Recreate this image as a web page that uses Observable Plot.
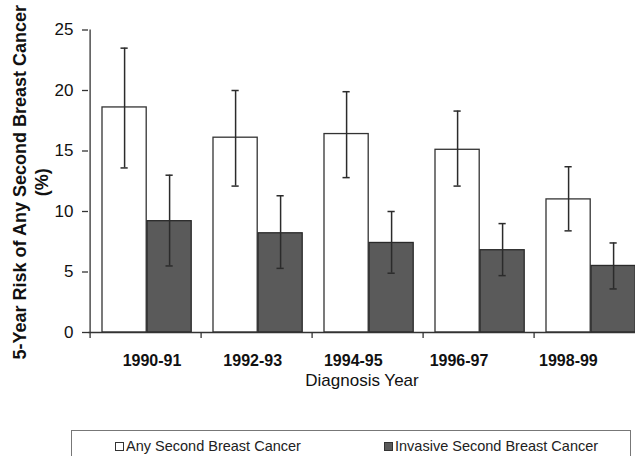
<!DOCTYPE html>
<html><head><meta charset="utf-8">
<script src="https://cdn.jsdelivr.net/npm/d3@7"></script>
<script src="https://cdn.jsdelivr.net/npm/@observablehq/plot@0.6"></script>
<style>
html,body{margin:0;padding:0;background:#fff;overflow:hidden;width:635px;height:456px;}
body{font-family:"Liberation Sans",Arial,sans-serif;position:relative;}
#legend{position:absolute;left:71px;top:430px;width:560px;height:40px;border:1px solid #777;box-sizing:border-box;font-size:14.5px;color:#222;}
.item{position:absolute;top:5px;line-height:20px;white-space:nowrap;}
.sw{display:inline-block;width:7px;height:7px;border:1px solid #333;margin-right:2px;vertical-align:0px;}
</style>
</head><body>
<div id="chart"></div>
<script>
const years = ["1990-91", "1992-93", "1994-95", "1996-97", "1998-99"];
const seriesNames = ["Any Second Breast Cancer", "Invasive Second Breast Cancer"];
const anyRisk = [18.6, 16.1, 16.4, 15.1, 11.0];
const anyLow  = [13.6, 12.1, 12.8, 12.1, 8.4];
const anyHigh = [23.5, 20.0, 19.9, 18.3, 13.7];
const invRisk = [9.2, 8.2, 7.4, 6.8, 5.5];
const invLow  = [5.5, 5.3, 4.9, 4.7, 3.6];
const invHigh = [13.0, 11.3, 10.0, 9.0, 7.4];
const yTicks = [0, 5, 10, 15, 20, 25];

// layout (styles)
const BW = (647 - 88) / 5;
const barW = 45;
const anyLeft = 12, invLeft = 57;
const capW = 8;
const labelShift = [6, -4.3, -14.7, -20, -21.6];

const anyRows = years.map((y, i) => ({year: y, value: anyRisk[i], low: anyLow[i], high: anyHigh[i]}));
const invRows = years.map((y, i) => ({year: y, value: invRisk[i], low: invLow[i], high: invHigh[i]}));

const anyC = anyLeft + barW / 2, invC = invLeft + barW / 2;
const errMarks = (rows, c) => [
  Plot.ruleX(rows, {x: "year", y1: "low", y2: "high", dx: c - BW / 2, stroke: "#2b2b2b", strokeWidth: 1.5}),
  Plot.tickY(rows, {x: "year", y: "high", insetLeft: c - capW / 2, insetRight: BW - c - capW / 2, stroke: "#2b2b2b", strokeWidth: 1.5}),
  Plot.tickY(rows, {x: "year", y: "low", insetLeft: c - capW / 2, insetRight: BW - c - capW / 2, stroke: "#2b2b2b", strokeWidth: 1.5})
];

const chart = Plot.plot({
  width: 635,
  height: 420,
  marginLeft: 88,
  marginRight: 0,
  marginTop: 29.5,
  marginBottom: 88,
  style: {fontFamily: "'Liberation Sans', Arial, sans-serif", background: "white", color: "#111", overflow: "hidden"},
  x: {domain: years, range: [88, 647], padding: 0, axis: null},
  y: {domain: [0, 25], axis: null},
  marks: [
    Plot.barY(anyRows, {x: "year", y: "value", fill: "white", stroke: "#333", strokeWidth: 1.3, insetLeft: anyLeft, insetRight: BW - anyLeft - barW}),
    Plot.barY(invRows, {x: "year", y: "value", fill: "#5a5a5a", stroke: "#2a2a2a", strokeWidth: 1.3, insetLeft: invLeft, insetRight: BW - invLeft - barW}),
    ...errMarks(anyRows, anyC),
    ...errMarks(invRows, invC),
    Plot.ruleY([0], {stroke: "#333", strokeWidth: 1.3}),
    Plot.ruleX([years[0]], {y1: 0, y2: 25, dx: -BW / 2, stroke: "#333", strokeWidth: 1.3}),
    Plot.axisY({ticks: yTicks, tickSize: 6, tickPadding: 9, fontSize: 17, label: null, stroke: "#333", strokeWidth: 1.3}),
    Plot.axisX({tickSize: 6, tickFormat: () => "", dx: -BW / 2, label: null, stroke: "#333", strokeWidth: 1.3}),
    ...years.map((y, i) => Plot.text([y], {x: d => d, frameAnchor: "bottom", dy: 33, dx: labelShift[i], fontSize: 16, fontWeight: "bold", fill: "#111"})),
    Plot.text(["Diagnosis Year"], {frameAnchor: "bottom", dy: 53, fontSize: 17, fill: "#111"}),
    Plot.text(["5-Year Risk of Any Second Breast Cancer\n(%)"], {frameAnchor: "left", textAnchor: "middle", dx: -58.5, dy: 1, rotate: -90, fontSize: 18, fontWeight: "bold", lineHeight: 1.22, fill: "#111"})
  ]
});
document.getElementById("chart").appendChild(chart);

const legend = document.createElement("div");
legend.id = "legend";
const fills = ["white", "#5a5a5a"];
const lefts = [43, 312];
seriesNames.forEach((name, i) => {
  const it = document.createElement("div");
  it.className = "item";
  it.style.left = lefts[i] + "px";
  const sw = document.createElement("span");
  sw.className = "sw";
  sw.style.background = fills[i];
  it.appendChild(sw);
  it.appendChild(document.createTextNode(name));
  legend.appendChild(it);
});
document.body.appendChild(legend);
</script>
</body></html>
